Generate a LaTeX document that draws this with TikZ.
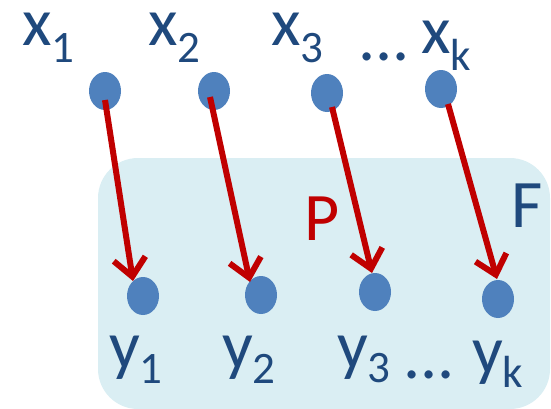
\documentclass[tikz,border=0pt]{standalone}
\usepackage{fontspec}
\setmainfont{Carlito}
\usetikzlibrary{arrows.meta}
\definecolor{txtblue}{HTML}{1F497D}
\definecolor{dotblue}{HTML}{4F81BD}
\definecolor{arrred}{HTML}{C00000}
\definecolor{boxfill}{HTML}{DAEEF3}
\newcommand{\bigf}{\fontsize{68}{68}\selectfont}
\newcommand{\subf}{\fontsize{45}{45}\selectfont}
\tikzset{
  lbl/.style={anchor=base west, inner sep=0pt, outer sep=0pt, text=txtblue, font=\bigf},
  map/.style={draw=arrred, line width=6pt, -{Straight Barb[length=18pt,width=32pt,line width=6pt]}},
}
\begin{document}
\begin{tikzpicture}[x=1pt,y=-1pt]
\useasboundingbox (0,0) rectangle (551,408);
% box F
\fill[boxfill, rounded corners=40pt] (98,158) rectangle (550,409);
% dots (ellipses)
\foreach \n/\px/\py in {x1/105/91, x2/214/91, x3/327/93, xk/441/89, y1/143/296, y2/261/295, y3/375/292, yk/498/299}{
  \fill[dotblue] (\px,\py) ellipse [x radius=16, y radius=19];
  \coordinate (\n) at (\px,\py);
}
% arrow end points
\coordinate (s1) at (105,100);
\coordinate (t1) at (133,281);
\coordinate (s2) at (210,97);
\coordinate (t2) at (250,282);
\coordinate (s3) at (332,107);
\coordinate (t3) at (372,273);
\coordinate (sk) at (448,104);
\coordinate (tk) at (497,279);
\draw[map] (s1) -- (t1);
\draw[map] (s2) -- (t2);
\draw[map] (s3) -- (t3);
\draw[map] (sk) -- (tk);
% top labels
\node[lbl] (lx1) at (22,45) {x\raisebox{-17pt}{\subf 1}};
\node[lbl] (lx2) at (148,45) {x\raisebox{-17pt}{\subf 2}};
\node[lbl] (lx3) at (271,45) {x\raisebox{-17pt}{\subf 3}};
\node[lbl] (ldx) at (358,60) {...};
\node[lbl] (lxk) at (421,53) {x\raisebox{-17pt}{\subf k}};
% bottom labels
\node[lbl] (ly1) at (109,368) {y\raisebox{-15pt}{\subf 1}};
\node[lbl] (ly2) at (222,368) {y\raisebox{-15pt}{\subf 2}};
\node[lbl] (ly3) at (337,368) {y\raisebox{-14pt}{\subf 3}};
\node[lbl] (ldy) at (403,378) {...};
\node[lbl] (lyk) at (472,373) {y\raisebox{-14pt}{\subf k}};
% P and F
\node[lbl, text=arrred] (P) at (304,240) {P};
\node[lbl] (F) at (511,227) {F};
\end{tikzpicture}
\end{document}
